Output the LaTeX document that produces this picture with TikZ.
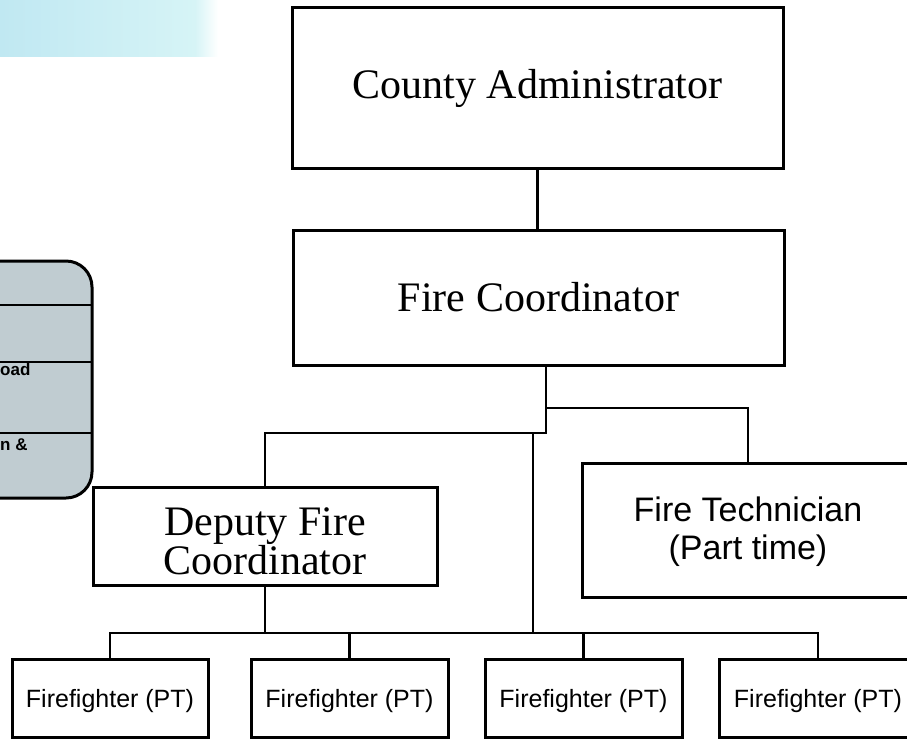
\documentclass[tikz,border=0pt]{standalone}
\usepackage{fontspec}
\setmainfont{Liberation Serif}
\setsansfont{Liberation Sans}
\newcommand\titlefont{\fontsize{42}{37}\selectfont\rmfamily}
\newcommand\techfont{\fontsize{34}{38}\selectfont\sffamily}
\newcommand\crewfont{\fontsize{25}{28}\selectfont\sffamily}
\newcommand\notefont{\fontsize{17}{19}\selectfont\sffamily\bfseries}
% invisible strut that lowers a box's text a little
\newcommand\lowerby[1]{\rule{0pt}{#1}}
\definecolor{bandleft}{RGB}{192,232,242}
\definecolor{bandright}{RGB}{214,244,246}
\definecolor{panelfill}{RGB}{192,204,209}
\tikzset{
  orgbox/.style={draw=black, fill=white, line width=3pt, inner sep=0pt, align=center},
  link/.style={line width=2.7pt},
}
\begin{document}
\begin{tikzpicture}[x=1pt, y=-1pt]
\useasboundingbox (0,0) rectangle (907,740);
\clip (0,0) rectangle (907,740);
\fill[white] (0,0) rectangle (907,740);

% pale banner in the upper left corner
\shade[left color=bandleft, right color=bandright] (0,0) rectangle (196,56);
\shade[left color=bandright, right color=white] (195,0) rectangle (218,56);

% side panel, partly outside the page
\draw[fill=panelfill, line width=3pt, rounded corners=26pt] (-40,261) rectangle (92,498);
\foreach \yy in {305,362,433} \draw[line width=2pt] (-40,\yy) -- (91,\yy);
\node[anchor=base west, inner sep=0pt, font=\notefont] (pa) at (0,375) {oad};
\node[anchor=base west, inner sep=0pt, font=\notefont] (pb) at (0,450) {n \&};

% positions
\node[orgbox, minimum width=491pt, minimum height=161pt, font=\titlefont] (ca) at (537.5,87.5) {\lowerby{32pt}County Administrator};
\node[orgbox, minimum width=491pt, minimum height=135pt, font=\titlefont] (fc) at (538.5,297.5) {Fire Coordinator};
\node[orgbox, minimum width=344pt, minimum height=98pt, font=\titlefont] (dep) at (265,536) {\lowerby{38pt}Deputy Fire\\Coordinator};
\node[orgbox, minimum width=332pt, minimum height=134pt, font=\techfont] (ft) at (748,530) {\lowerby{29pt}Fire Technician\\(Part time)};
\node[orgbox, minimum width=196pt, minimum height=78pt, font=\crewfont] (ff1) at (110,698) {\lowerby{24pt}Firefighter (PT)};
\node[orgbox, minimum width=197pt, minimum height=78pt, font=\crewfont] (ff2) at (349.5,698) {\lowerby{24pt}Firefighter (PT)};
\node[orgbox, minimum width=197pt, minimum height=78pt, font=\crewfont] (ff3) at (583.5,698) {\lowerby{24pt}Firefighter (PT)};
\node[orgbox, minimum width=198pt, minimum height=78pt, font=\crewfont] (ff4) at (818,698) {\lowerby{24pt}Firefighter (PT)};

% reporting lines
\coordinate (j1) at (546,433);
\coordinate (j2) at (546,408);
\coordinate (j3) at (533,433);
\coordinate (bus) at (533,633);
\draw[link] (ca.south) -- (ca.south |- fc.north);
\draw[link] (fc.south -| j1) -- (j1) -- (j1 -| dep.north) -- (dep.north);
\draw[link] (j2) -- (j2 -| ft.north) -- (ft.north);
\draw[link] (j3) -- (bus);
\draw[link] (dep.south) -- (dep.south |- bus);
\draw[link] (ff1.north) -- (ff1.north |- bus) -- (ff4.north |- bus) -- (ff4.north);
\draw[link] (ff2.north) -- (ff2.north |- bus);
\draw[link] (ff3.north) -- (ff3.north |- bus);
\end{tikzpicture}
\end{document}
